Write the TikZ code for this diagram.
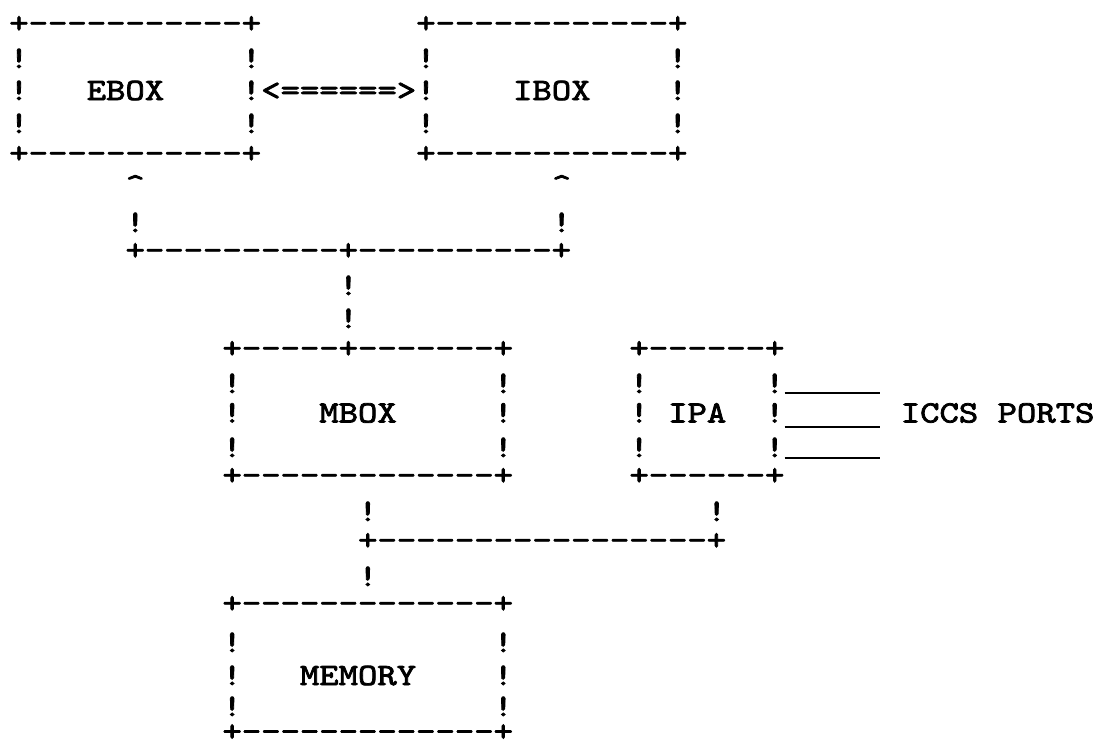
\documentclass[tikz,border=0pt]{standalone}
\usepackage{fontspec}
\setmonofont{lmmono10-regular.otf}[FakeStretch=1.19,FakeBold=2.5]
\newcommand\twfont{\ttfamily\fontsize{31}{32}\selectfont}
\newcommand\trow[4]{\node[tw] (#1) at ({9.31pt+19.38pt*#2},{-#3pt}) {#4};}
\tikzset{
  tw/.style={anchor=base west, inner sep=0pt, outer sep=0pt, font=\twfont, text=black,
             text height=19pt, text depth=0pt},
  port/.style={line width=1.6pt, draw=black}
}
\begin{document}
\begin{tikzpicture}[x=1pt,y=1pt]
\useasboundingbox[fill=white] (0,0) rectangle (1097,-747);
% EBOX
\trow{ebox0}{0}{32.75}{+-----------+}
\trow{ebox1}{0}{68}{!~~~~~~~~~~~!}
\trow{ebox2}{0}{100}{!~~~EBOX~~~~!}
\trow{ebox3}{0}{133}{!~~~~~~~~~~~!}
\trow{ebox4}{0}{162.75}{+-----------+}
% link EBOX <-> IBOX
\trow{eilink}{13}{100}{<======>}
% IBOX
\trow{ibox0}{21}{32.75}{+------------+}
\trow{ibox1}{21}{68}{!~~~~~~~~~~~~!}
\trow{ibox2}{21}{100}{!~~~~IBOX~~~~!}
\trow{ibox3}{21}{133}{!~~~~~~~~~~~~!}
\trow{ibox4}{21}{162.75}{+------------+}
% bus to EBOX / IBOX
\trow{upe}{6}{194.5}{\textasciicircum}
\trow{upi}{28}{194.5}{\textasciicircum}
\trow{ve}{6}{232}{!}
\trow{vi}{28}{232}{!}
\trow{bus1}{6}{259.75}{+----------+----------+}
\trow{vm1}{17}{295}{!}
\trow{vm2}{17}{328}{!}
% MBOX
\trow{mbox0}{11}{357.75}{+-----+-------+}
\trow{mbox1}{11}{393}{!~~~~~~~~~~~~~!}
\trow{mbox2}{11}{422.5}{!~~~~MBOX~~~~~!}
\trow{mbox3}{11}{457}{!~~~~~~~~~~~~~!}
\trow{mbox4}{11}{484.75}{+-------------+}
% IPA
\trow{ipa0}{32}{357.75}{+------+}
\trow{ipa1}{32}{393}{!~~~~~~!}
\trow{ipa2}{32}{422.5}{!~IPA~~!}
\trow{ipa3}{32}{457}{!~~~~~~!}
\trow{ipa4}{32}{484.75}{+------+}
\trow{iccs}{46}{422.5}{ICCS~PORTS}
\coordinate (p1a) at (784.5,-393);
\coordinate (p1b) at (880,-393);
\coordinate (p2a) at (784.5,-427);
\coordinate (p2b) at (880,-427);
\coordinate (p3a) at (784.5,-458);
\coordinate (p3b) at (880,-458);
\draw[port] (p1a) -- (p1b);
\draw[port] (p2a) -- (p2b);
\draw[port] (p3a) -- (p3b);
% memory bus
\trow{vmb}{18}{521}{!}
\trow{vip}{36}{521}{!}
\trow{bus2}{18}{549.75}{+-----------------+}
\trow{vmem}{18}{586}{!}
% MEMORY
\trow{mem0}{11}{612.75}{+-------------+}
\trow{mem1}{11}{652}{!~~~~~~~~~~~~~!}
\trow{mem2}{11}{685}{!~~~MEMORY~~~~!}
\trow{mem3}{11}{716}{!~~~~~~~~~~~~~!}
\trow{mem4}{11}{741}{+-------------+}
\end{tikzpicture}
\end{document}
